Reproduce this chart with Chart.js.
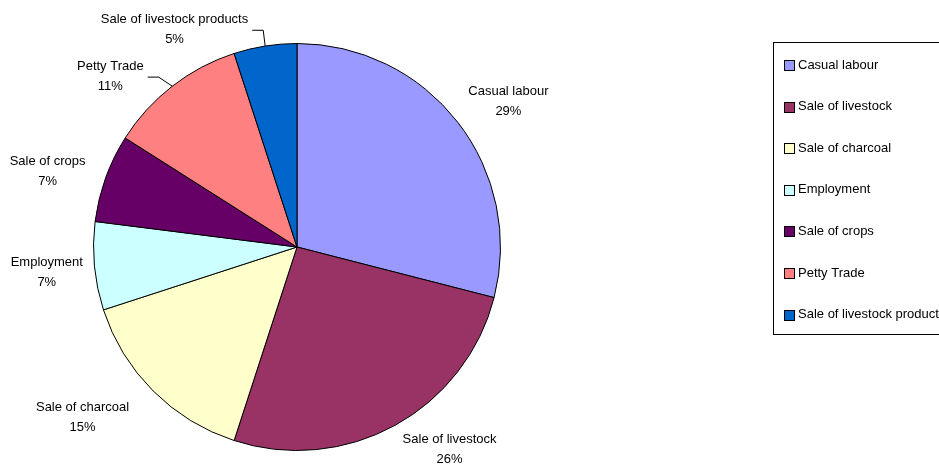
<!DOCTYPE html>
<html>
<head>
<meta charset="utf-8">
<script src="https://cdn.jsdelivr.net/npm/chart.js@4/dist/chart.umd.min.js"></script>
<style>
  html, body { margin: 0; padding: 0; background: #fff; }
  #wrap { width: 939px; height: 466px; }
</style>
</head>
<body>
<div id="wrap"><canvas id="income_sources"></canvas></div>
<script>
// categorias e valores (%)
const categories = ["Casual labour", "Sale of livestock", "Sale of charcoal", "Employment", "Sale of crops", "Petty Trade", "Sale of livestock products"];
const shares = [29, 26, 15, 7, 7, 11, 5];
const sliceColors = ["#9999FF", "#993366", "#FFFFCC", "#CCFFFF", "#660066", "#FF8080", "#0066CC"];

const FONT = "13px 'Liberation Sans', Arial, sans-serif";

// rótulos fora da fatia, com linha guia nos pequenos
const outsideLabels = {
  id: "outsideLabels",
  afterDatasetsDraw(chart, args, opts) {
    const ctx = chart.ctx;
    const meta = chart.getDatasetMeta(0);
    const data = chart.data.datasets[0].data;
    ctx.save();
    ctx.font = FONT;
    ctx.fillStyle = "#000";
    ctx.textAlign = "center";
    ctx.textBaseline = "middle";
    meta.data.forEach((arc, i) => {
      const p = arc.getProps(["x", "y", "startAngle", "endAngle", "outerRadius"], true);
      const mid = (p.startAngle + p.endAngle) / 2;
      const d = p.outerRadius * opts.radius;
      const nudge = opts.nudge[i] || [0, 0];
      const cx = p.x + Math.cos(mid) * d + nudge[0];
      const cy = p.y + Math.sin(mid) * d + nudge[1];
      ctx.fillText(chart.data.labels[i], cx, cy - 10);
      ctx.fillText(data[i] + "%", cx, cy + 10);
      if (opts.leaders.includes(i)) {
        const w = ctx.measureText(chart.data.labels[i]).width;
        const sx = cx + w / 2 + 4;
        const ex = p.x + Math.cos(mid) * p.outerRadius;
        const ey = p.y + Math.sin(mid) * p.outerRadius;
        ctx.strokeStyle = "#000";
        ctx.lineWidth = 1;
        ctx.beginPath();
        ctx.moveTo(sx, cy + 0.5);
        ctx.lineTo(sx + 11, cy + 0.5);
        ctx.lineTo(ex, ey);
        ctx.stroke();
      }
    });
    ctx.restore();
  }
};

// legenda com moldura, como no original
const boxedLegend = {
  id: "boxedLegend",
  afterDraw(chart, args, opts) {
    const ctx = chart.ctx;
    const ds = chart.data.datasets[0];
    ctx.save();
    ctx.strokeStyle = "#000";
    ctx.lineWidth = 1;
    ctx.strokeRect(opts.x + 0.5, opts.y + 0.5, opts.w, opts.h);
    ctx.font = FONT;
    ctx.textBaseline = "middle";
    ctx.textAlign = "left";
    chart.data.labels.forEach((lab, i) => {
      const y = opts.firstY + i * opts.step;
      const top = Math.round(y - 5) + 0.5;
      ctx.fillStyle = ds.backgroundColor[i];
      ctx.fillRect(opts.x + 11.5, top, 10, 10);
      ctx.strokeRect(opts.x + 11.5, top, 10, 10);
      ctx.fillStyle = "#000";
      ctx.fillText(lab, opts.x + 25, y);
    });
    ctx.restore();
  }
};

const config = {
  type: "pie",
  data: {
    labels: categories,
    datasets: [{
      data: shares,
      backgroundColor: sliceColors,
      borderColor: "#000",
      borderWidth: 1
    }]
  },
  options: {
    responsive: true,
    maintainAspectRatio: false,
    animation: false,
    layout: { padding: { left: 93, right: 438, top: 43, bottom: 15 } },
    plugins: {
      legend: { display: false },
      tooltip: { enabled: false },
      outsideLabels: {
        radius: 1.24,
        nudge: [[12, 9], [31, -19], [-36, -8], [1, 2], [-12, 10], [-32, 29], [-83, 32]],
        leaders: [5, 6]
      },
      boxedLegend: { x: 773, y: 42, w: 200, h: 292, firstY: 65, step: 41.6 }
    }
  },
  plugins: [outsideLabels, boxedLegend]
};

new Chart(document.getElementById("income_sources"), config);
</script>
</body>
</html>
